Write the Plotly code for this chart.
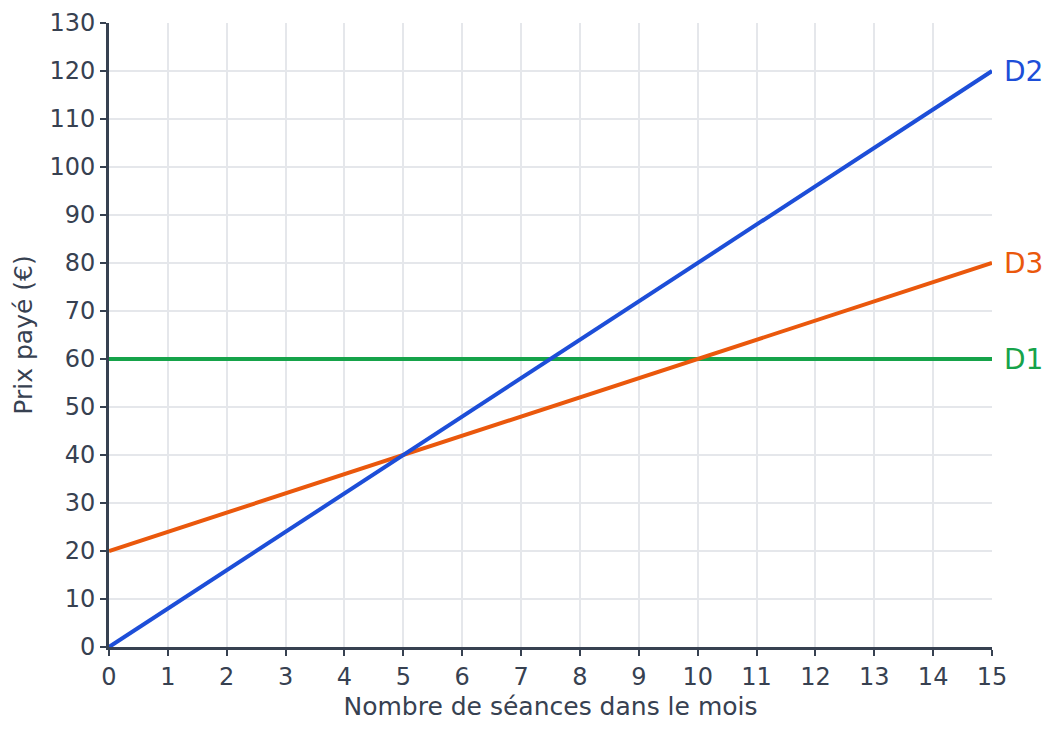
import plotly.graph_objects as go

seances = [0, 15]
d1 = [60, 60]
d2 = [0, 120]
d3 = [20, 80]
colors = {"D1": "#16a34a", "D2": "#1d4ed8", "D3": "#ea580c"}
series = {"D1": d1, "D2": d2, "D3": d3}

fig = go.Figure()
for n in ["D1", "D3", "D2"]:
    fig.add_trace(go.Scatter(x=seances, y=series[n], mode="lines", name=n,
                             line=dict(color=colors[n], width=4), showlegend=False,
                             cliponaxis=False))
    fig.add_annotation(x=seances[-1], y=series[n][-1], text=n, showarrow=False,
                       xanchor="left", xshift=10, font=dict(color=colors[n], size=28))

axis_color = "#374151"
fig.update_layout(
    width=1043, height=718,
    margin=dict(l=101, r=59, t=15, b=79, autoexpand=False),
    plot_bgcolor="white", paper_bgcolor="white",
    font=dict(family="DejaVu Sans", size=23, color=axis_color),
)
fig.update_xaxes(range=[0, 15], dtick=1, showgrid=True, gridcolor="#e5e7eb", gridwidth=1.5,
                 showline=True, linecolor=axis_color, linewidth=3, ticks="outside",
                 ticklen=6, tickwidth=2, tickcolor=axis_color, zeroline=False, automargin=False,
                 tickfont=dict(size=24),
                 title=dict(text="Nombre de séances dans le mois", standoff=8, font=dict(size=25)))
fig.update_yaxes(range=[0, 130], dtick=10, showgrid=True, gridcolor="#e5e7eb", gridwidth=1.5,
                 showline=True, linecolor=axis_color, linewidth=3, ticks="outside",
                 ticklen=6, tickwidth=2, tickcolor=axis_color, zeroline=False, automargin=False,
                 tickfont=dict(size=24),
                 title=dict(text="Prix payé (€)", standoff=10, font=dict(size=25)))
fig.write_html("out.html")
